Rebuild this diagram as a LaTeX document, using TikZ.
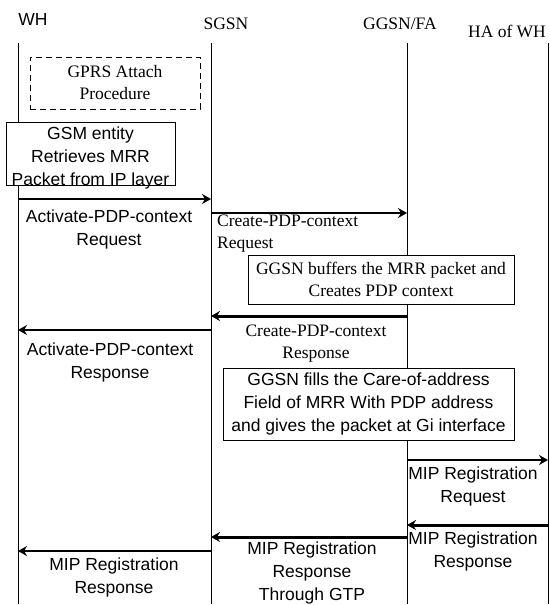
\documentclass[tikz,border=0pt]{standalone}
\usepackage{fontspec}
\setmainfont{Liberation Serif}
\setsansfont{Liberation Sans}
\usetikzlibrary{arrows.meta}
\tikzset{%
  lifeline/.style = {draw, line width=1pt},%
  txtsans/.style  = {font=\sffamily\fontsize{17.5}{23}\selectfont,%
                     align=center, inner sep=0pt},%
  txtserif/.style = {font=\rmfamily\fontsize{17.5}{22}\selectfont,%
                     align=center, inner sep=0pt},%
  msgbox/.style   = {rectangle, draw, line width=1pt, fill=white},%
  msg/.style      = {line width=2pt,%
                     -{Stealth[length=9pt,width=10pt,inset=3pt]}},%
  thickmsg/.style = {msg, line width=3pt}%
}

\begin{document}
\begin{tikzpicture}[x=1pt,y=-1pt]
	\useasboundingbox (0,0) rectangle (549,605);
	\node [txtsans,anchor=north] (whlbl) at (33,13) {WH};
	\node [txtserif,anchor=north] (sgsnlbl) at (226,18) {SGSN};
	\node [txtserif,anchor=north] (ggsnlbl) at (400,18) {GGSN/FA};
	\node [txtserif,anchor=north] (halbl) at (507,25) {HA of WH};
	\coordinate (wh) at (18,43);
	\coordinate (sgsn) at (211,43);
	\coordinate (ggsn) at (407,43);
	\coordinate (ha) at (548,43);
	\coordinate (bot) at (0,604);
	\draw [lifeline] (wh) -- (wh |- bot);
	\draw [lifeline] (sgsn) -- (sgsn |- bot);
	\draw [lifeline] (ggsn) -- (ggsn |- bot);
	\draw [lifeline] (ha) -- (ha |- bot);
	\node [msgbox,txtserif,dash pattern=on 6pt off 4pt,
		minimum width=170pt,minimum height=52pt] (gprs) at (115,83)
		{GPRS Attach\\Procedure};
	\node [msgbox,minimum width=169pt,minimum height=63pt] (gsmbox) at (90.5,153.5) {};
	\node [txtsans,anchor=north] (gsmtxt) at (90.5,127)
		{GSM entity\\Retrieves MRR\\Packet from IP layer};
	\coordinate (r1) at (0,199);
	\coordinate (r2) at (0,213);
	\coordinate (r3) at (0,316);
	\coordinate (r4) at (0,330);
	\coordinate (r5) at (0,460);
	\coordinate (r6) at (0,525);
	\coordinate (r7) at (0,537);
	\coordinate (r8) at (0,551);
	\draw [msg] (wh |- r1) -- (sgsn |- r1);
	\node [txtsans,anchor=north] (actreq) at (109,210) {Activate-PDP-context\\Request};
	\draw [msg,line width=1.5pt] (sgsn |- r2) -- (ggsn |- r2);
	\node [txtserif,align=left,anchor=north west] (crtreq) at (217,215) {Create-PDP-context\\Request};
	\node [msgbox,txtserif,minimum width=266pt,minimum height=49pt] (buffer) at (381,279.5)
		{GGSN buffers the MRR packet and\\Creates PDP context};
	\draw [thickmsg] (ggsn |- r3) -- (sgsn |- r3);
	\node [txtserif,anchor=north] (crtresp) at (316,325) {Create-PDP-context\\Response};
	\draw [msg] (sgsn |- r4) -- (wh |- r4);
	\node [txtsans,anchor=north] (actresp) at (110,343) {Activate-PDP-context\\Response};
	\node [msgbox,txtsans,minimum width=291pt,minimum height=72pt] (fill) at (368.5,404)
		{GGSN fills the Care-of-address\\Field of MRR With PDP address\\and gives the packet at Gi interface};
	\draw [msg] (ggsn |- r5) -- (ha |- r5);
	\node [txtsans,anchor=north] (mipreq) at (473,467) {MIP Registration\\Request};
	\draw [thickmsg] (ha |- r6) -- (ggsn |- r6);
	\node [txtsans,anchor=north] (mipresp) at (473,532) {MIP Registration\\Response};
	\draw [thickmsg] (ggsn |- r7) -- (sgsn |- r7);
	\node [txtsans,anchor=north] (gtpresp) at (312,542) {MIP Registration\\Response\\Through GTP};
	\draw [msg] (sgsn |- r8) -- (wh |- r8);
	\node [txtsans,anchor=north] (whresp) at (114,558) {MIP Registration\\Response};
\end{tikzpicture}
\end{document}
